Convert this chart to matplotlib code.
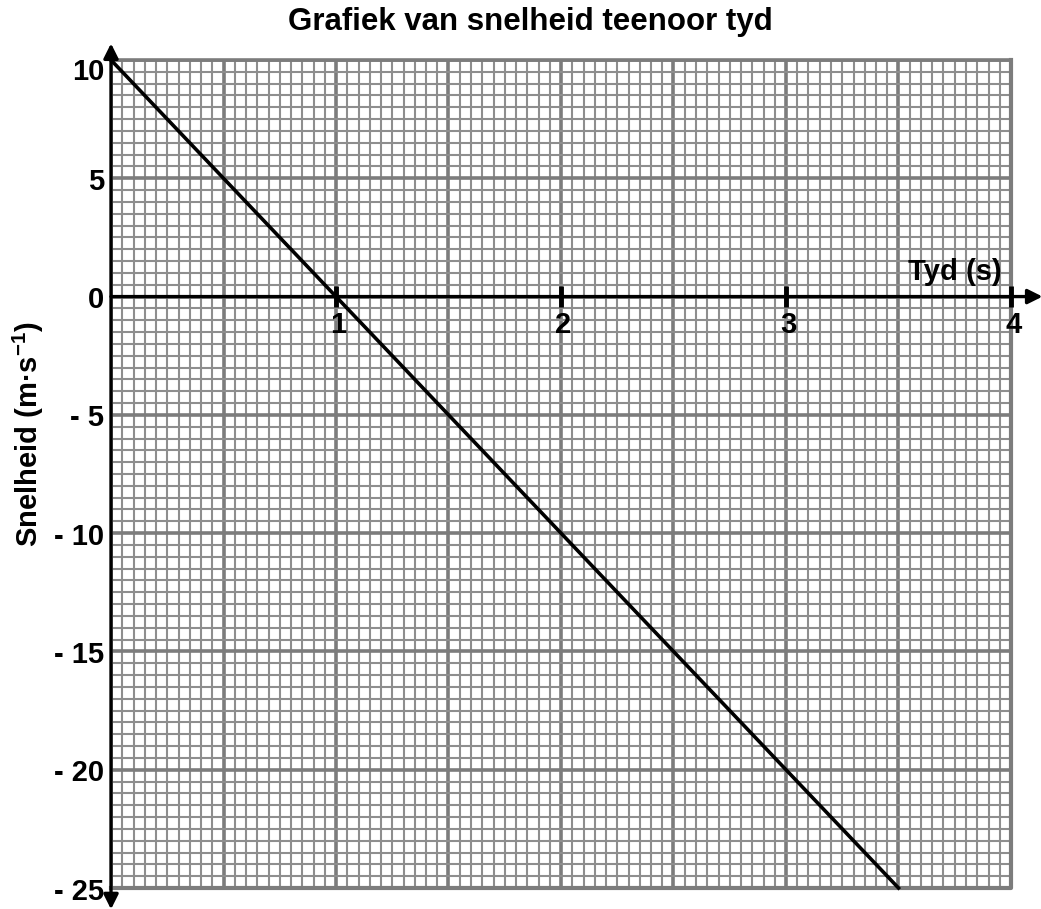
import matplotlib.pyplot as plt
import numpy as np

plt.rcParams['font.family'] = ['Liberation Sans', 'DejaVu Sans']
plt.rcParams['mathtext.fontset'] = 'custom'
plt.rcParams['mathtext.rm'] = 'Liberation Sans:bold'
plt.rcParams['mathtext.bf'] = 'Liberation Sans:bold'

# data
tyd = [0.0, 3.5]
snelheid = [10.0, -25.0]
x_ticks = [1, 2, 3, 4]
y_ticks = [10, 5, 0, -5, -10, -15, -20, -25]
y_labels = ["10", "5", "0", "- 5", "- 10", "- 15", "- 20", "- 25"]

fig = plt.figure(figsize=(10.41, 9.09), dpi=100)
ax = fig.add_axes([111 / 1041, (909 - 888) / 909, 900 / 1041, 828 / 909])
ax.set_xlim(0, 4)
ax.set_ylim(-25, 10)

# graph paper
ax.set_xticks(np.arange(0, 4.001, 0.5))
ax.set_xticks(np.arange(0, 4.001, 0.05), minor=True)
ax.set_yticks(np.arange(-25, 10.001, 5))
ax.set_yticks(np.arange(-25, 10.001, 0.5), minor=True)
ax.grid(which='minor', color='#8e8e8e', linewidth=1.5)
ax.grid(which='major', color='#7c7c7c', linewidth=2.6)
ax.tick_params(which='both', length=0, labelbottom=False, labelleft=False)
for s in ax.spines.values():
    s.set_visible(False)
ax.set_axisbelow(True)

# border of the paper
ax.plot([0, 4, 4], [-25, -25, 10], color='#7c7c7c', lw=3, clip_on=False)
ax.plot([0, 4], [10, 10], color='#7c7c7c', lw=2.6, clip_on=False)

# axes with arrows
ax.annotate('', xy=(0, 10.7), xytext=(0, -25.9), xycoords='data',
            arrowprops=dict(arrowstyle='<|-|>', color='black', lw=2.4,
                            mutation_scale=22, shrinkA=0, shrinkB=0),
            annotation_clip=False)
ax.annotate('', xy=(4.14, 0), xytext=(0, 0), xycoords='data',
            arrowprops=dict(arrowstyle='-|>', color='black', lw=2.4,
                            mutation_scale=22, shrinkA=0, shrinkB=0),
            annotation_clip=False)

# tick marks and labels on x axis
for t in x_ticks:
    ax.plot([t, t], [-0.45, 0.45], color='black', lw=3.5, clip_on=False,
            solid_capstyle='butt')
    ax.text(t + 0.01, -0.6, str(t), ha='center', va='top', fontsize=21,
            fontweight='bold')

for v, lab in zip(y_ticks, y_labels):
    yy = v - 0.5 if v == 10 else v - 0.15
    ax.text(-0.03, yy, lab, ha='right', va='center', fontsize=21,
            fontweight='bold', clip_on=False)

ax.text(3.96, 0.45, 'Tyd (s)', ha='right', va='bottom', fontsize=21,
        fontweight='bold')

# data line
ax.plot(tyd, snelheid, color='black', lw=2.6, clip_on=False)

fig.text(28 / 1041, 1 - 434 / 909, 'Snelheid (m·s$^{\\mathbf{-1}}$)',
         rotation=90, ha='center', va='center', fontsize=21, fontweight='bold')
fig.text(530 / 1041, 1 - 22 / 909, 'Grafiek van snelheid teenoor tyd',
         ha='center', va='center', fontsize=22.5, fontweight='bold')

fig.savefig('out.png', dpi=100)
